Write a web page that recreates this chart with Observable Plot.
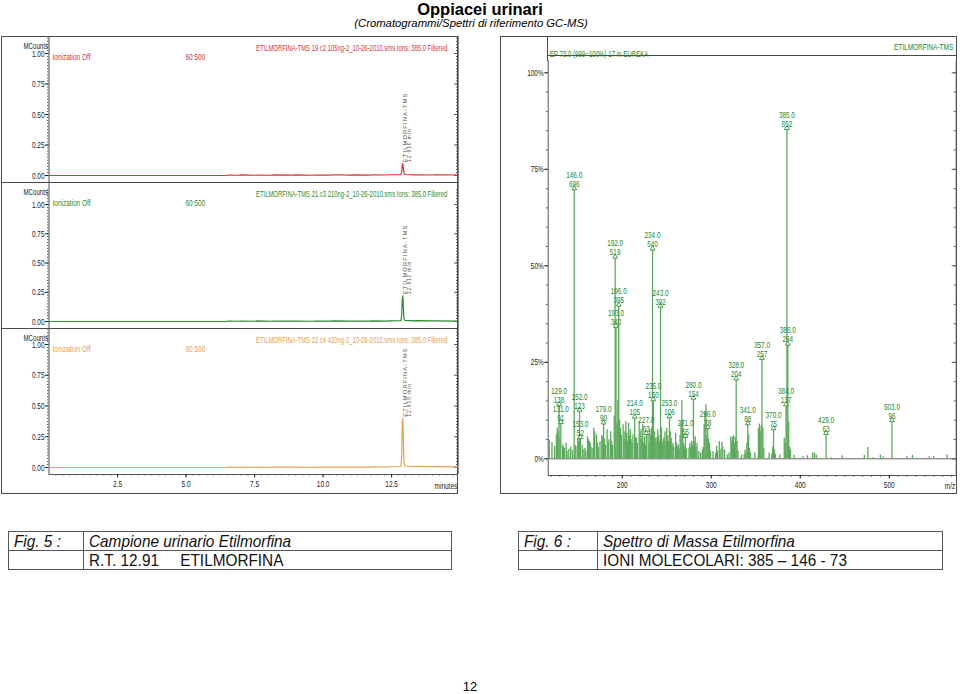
<!DOCTYPE html>
<html><head><meta charset="utf-8">
<script src="https://cdn.jsdelivr.net/npm/d3@7"></script>
<script src="https://cdn.jsdelivr.net/npm/@observablehq/plot@0.6"></script>
<style>
body{margin:0;background:#fff}
#page{position:relative;width:960px;height:694px;overflow:hidden;font-family:"Liberation Sans",Arial,sans-serif;background:#fff}
.box{position:absolute;border:1px solid #4a4a4a;box-sizing:border-box}
.hl{position:absolute;height:0;border-top:1px solid #4a4a4a}
.vl{position:absolute;width:0;border-left:1px solid #4a4a4a}
.cap{position:absolute;border-collapse:collapse;font-family:"Liberation Sans Narrow","Arial Narrow","Liberation Sans",sans-serif;font-size:16.5px;color:#111}
.cap td{border:1px solid #555;height:18px;padding:0 5px;line-height:18px;white-space:nowrap;overflow:visible}
.cap span{display:inline-block;transform:scaleX(0.93);transform-origin:left center}
</style></head>
<body><div id="page">
<div style="position:absolute;left:0;width:960px;top:0;line-height:18px;text-align:center;font-weight:bold;font-size:16.5px">Oppiacei urinari</div>
<div style="position:absolute;left:-9px;width:960px;top:17px;line-height:13px;text-align:center;font-style:italic;font-size:11.3px">(Cromatogrammi/Spettri di riferimento GC-MS)</div>
<div class="box" style="left:1px;top:36px;width:457px;height:458px"></div>
<div class="box" style="left:500px;top:36px;width:457px;height:458px"></div>
<div class="hl" style="left:1px;top:182px;width:457px"></div>
<div class="hl" style="left:1px;top:328px;width:457px"></div>
<div class="hl" style="left:547px;top:55px;width:410px"></div>
<div class="vl" style="left:547px;top:36px;height:25px"></div>
<table class="cap" style="left:8px;top:531px;width:444px">
<tr><td style="width:64px"><i><span>Fig. 5 :</span></i></td><td><i><span>Campione urinario Etilmorfina</span></i></td></tr>
<tr><td></td><td><span>R.T. 12.91&nbsp;&nbsp;&nbsp;&nbsp;&nbsp;ETILMORFINA</span></td></tr>
</table>
<table class="cap" style="left:518px;top:531px;width:425px">
<tr><td style="width:68px"><i><span>Fig. 6 :</span></i></td><td><i><span>Spettro di Massa Etilmorfina</span></i></td></tr>
<tr><td></td><td><span>IONI MOLECOLARI: 385 – 146 - 73</span></td></tr>
</table>
<div style="position:absolute;left:0;width:940px;top:679px;text-align:center;font-size:13px">12</div>
</div>
<script>
// ---------- Chromatogram data (minutes, MCounts) ----------
const chromTimes1 = [0, 6.45, 6.55, 6.9, 7.0, 7.5, 7.6, 8.1, 8.2, 8.9, 9.0, 9.6, 9.7, 10.3, 10.4, 11.0, 11.1, 11.7, 11.8, 12.3, 12.4, 12.84, 12.87, 12.89, 12.91, 12.93, 12.95, 12.98, 13.3, 13.4, 14.0, 14.1, 14.93];
const chromValues1 = [0, 0, 0.004, 0.002, 0.005, 0.002, 0.004, 0.002, 0.005, 0.003, 0.005, 0.002, 0.004, 0.003, 0.006, 0.003, 0.005, 0.003, 0.006, 0.004, 0.006, 0.006, 0.03, 0.085, 0.097, 0.06, 0.02, 0.008, 0.005, 0.006, 0.004, 0.005, 0.004];
const chromTimes2 = [0, 6.45, 6.55, 6.9, 7.0, 7.5, 7.6, 8.1, 8.2, 8.9, 9.0, 9.6, 9.7, 10.3, 10.4, 11.0, 11.1, 11.7, 11.8, 12.3, 12.4, 12.84, 12.87, 12.89, 12.91, 12.93, 12.95, 12.98, 13.3, 13.4, 14.0, 14.1, 14.93];
const chromValues2 = [0, 0, 0.004, 0.002, 0.004, 0.002, 0.005, 0.002, 0.004, 0.003, 0.004, 0.002, 0.004, 0.003, 0.005, 0.003, 0.004, 0.003, 0.006, 0.004, 0.006, 0.007, 0.06, 0.19, 0.22, 0.12, 0.03, 0.01, 0.006, 0.007, 0.005, 0.006, 0.004];
const chromTimes3 = [0, 6.45, 6.55, 6.9, 7.0, 7.5, 7.6, 8.1, 8.2, 8.9, 9.0, 9.6, 9.7, 10.3, 10.4, 11.0, 11.1, 11.7, 11.8, 12.3, 12.4, 12.84, 12.87, 12.89, 12.91, 12.93, 12.95, 12.98, 13.3, 13.4, 14.0, 14.1, 14.93];
const chromValues3 = [0, 0, 0.003, 0.002, 0.004, 0.002, 0.004, 0.002, 0.004, 0.003, 0.004, 0.002, 0.003, 0.003, 0.004, 0.003, 0.004, 0.003, 0.005, 0.004, 0.006, 0.008, 0.1, 0.36, 0.40, 0.22, 0.05, 0.012, 0.008, 0.009, 0.006, 0.007, 0.005];
const chromTitles = [
  "ETILMORFINA-TMS 19 c2 105ng-2_10-26-2010.sms Ions: 385.0 Filtered",
  "ETILMORFINA-TMS 21 c3 210ng-2_10-26-2010.sms Ions: 385.0 Filtered",
  "ETILMORFINA-TMS 22 c4 420ng-2_10-26-2010.sms Ions: 385.0 Filtered"];
const chromColors = ["#d93434", "#2e8b2e", "#e8a04a"];
const peakName = "ETILMORFINA-TMS";
const peakRT = [12.91, 12.91, 12.91];
const peakRTText = ["12.910 min", "12.911 min", "12.915 min"];
const chromYTicks = [0, 0.25, 0.5, 0.75, 1.0];
const chromXTicks = [2.5, 5.0, 7.5, 10.0, 12.5];

// ---------- Mass spectrum data (m/z, abundance on 999 scale) ----------
const labeledMz = [129,131,146,152,153,179,192,193,196,214,227,234,235,243,253,271,280,296,328,341,357,370,384,385,386,429,503];
const labeledAbund = [138,91,696,123,52,90,519,340,395,105,63,540,150,392,106,55,154,78,204,88,257,75,137,852,294,63,96];
const otherMz = [118,121,124,126,127,128,130,133,134,135,137,138,140,142,144,147,148,150,151,155,156,158,159,161,162,163,164,165,167,168,169,171,172,173,175,177,178,180,181,183,184,185,187,188,189,191,194,195,197,198,199,201,202,203,204,205,206,207,208,209,210,211,212,215,216,217,219,220,221,222,223,224,225,226,229,230,231,232,233,236,237,238,239,240,241,242,244,245,246,247,248,249,250,251,252,254,255,256,257,258,260,261,262,263,264,265,266,267,268,269,270,272,275,276,277,278,279,281,282,283,284,286,288,290,291,292,293,294,295,297,298,299,302,305,306,307,309,310,312,313,315,318,320,322,323,324,325,326,327,329,330,334,337,338,339,340,342,343,344,349,353,354,355,356,358,359,365,368,369,371,372,377,382,383,387,388,389,393,403,408,414,416,418,435,447,472,476,482,490,493,520,526,545,550,565];
const otherAbund = [48,42,32,62,80,70,53,36,30,27,40,19,25,30,22,35,32,53,45,36,25,27,20,57,50,45,40,30,27,79,70,62,40,30,45,60,55,50,35,75,40,49,70,45,35,110,90,150,100,79,60,88,50,70,96,66,45,92,60,75,50,40,62,55,53,40,96,65,75,50,88,40,57,35,62,40,75,60,80,70,53,45,55,75,60,45,80,40,50,55,70,45,79,60,45,70,53,35,40,30,66,40,30,36,25,60,95,150,96,40,30,25,27,40,30,45,35,45,57,30,40,19,15,23,30,88,120,140,60,50,40,20,19,15,32,20,45,25,43,30,23,10,15,57,45,55,60,40,55,45,20,10,12,23,15,40,62,27,15,15,79,90,70,85,80,27,15,12,30,23,12,10,53,40,96,30,23,9,6,8,15,15,10,3,8,9,29,3,10,5,6,9,5,6,10];
const specYTicks = [0, 25, 50, 75, 100];
const specXTicks = [200, 300, 400, 500];
const specHeaderLeft = "EP 73.0 (999=100%) 17 in EUREKA";
const specHeaderRight = "ETILMORFINA-TMS";

const page = document.getElementById("page");
const FONT = "Liberation Sans, Arial, sans-serif";

function place(el, left, top) {
  const d = document.createElement("div");
  d.style.position = "absolute"; d.style.left = left + "px"; d.style.top = top + "px";
  d.appendChild(el); page.appendChild(d); return el;
}

function squeeze(svg, def, factors) {
  svg.querySelectorAll("text").forEach(t => {
    const g = t.closest("g[aria-description]");
    const lab = g ? g.getAttribute("aria-description") : "";
    if (lab === "peakname") { t.style.letterSpacing = "1.1px"; return; }
    if (lab === "peakrt") { t.style.letterSpacing = "0.9px"; return; }
    const f = factors[lab] ?? def;
    const w = t.getComputedTextLength();
    if (w > 0) { t.setAttribute("textLength", (w * f).toFixed(1)); t.setAttribute("lengthAdjust", "spacingAndGlyphs"); }
  });
}

function chrom(i, times, values, top, zeroPx, onePx, withX) {
  const color = chromColors[i];
  const areaH = 146;
  const unit = zeroPx - onePx;
  const yDomain = [(zeroPx - areaH) / unit, zeroPx / unit];
  const xDomain = [0, 14.93];
  const data = times.map((t, k) => ({t, v: values[k]}));
  const peak = d3.max(values);
  const minorY = d3.range(0, 1.13, 0.025);
  const marks = [
    Plot.ruleX(xDomain, {stroke: "#555", strokeWidth: 1}),
    Plot.axisY({ticks: minorY, tickSize: 1.5, tickFormat: () => "", color: "#555", label: null}),
    Plot.axisY({ticks: chromYTicks, tickSize: 3.5, tickPadding: 1, tickFormat: d3.format(".2f"), fontSize: 9.5, color: "#222", label: null}),
    Plot.ruleY(minorY, {x1: xDomain[1] - 0.06, x2: xDomain[1], stroke: "#555"}),
    Plot.ruleY(chromYTicks, {x1: xDomain[1] - 0.13, x2: xDomain[1], stroke: "#555"}),
    Plot.line(data, {x: "t", y: "v", stroke: color, strokeWidth: 1.2}),
    Plot.text([chromTitles[i]], {frameAnchor: "top-right", dx: -11, dy: 8, textAnchor: "end", fill: color, fontSize: 9.5, ariaDescription: "ctitle"}),
    Plot.text(["MCounts"], {frameAnchor: "top-left", dx: -1, dy: 6, textAnchor: "end", fill: "#222", fontSize: 8.5, ariaDescription: "mc"}),
    Plot.text(["Ionization Off"], {frameAnchor: "top-left", dx: 3.5, dy: 17, textAnchor: "start", fill: color, fontSize: 9.5}),
    Plot.text(["60:500"], {frameAnchor: "top-left", dx: 136.5, dy: 17, textAnchor: "start", fill: color, fontSize: 9.5}),
    Plot.text([peakName], {x: () => peakRT[i], y: () => peak, rotate: -90, textAnchor: "start", lineAnchor: "middle", dx: 2.5, dy: -1.5, fontSize: 5.8, fill: "#555", ariaDescription: "peakname"}),
    Plot.text([peakRTText[i]], {x: () => peakRT[i], y: () => peak, rotate: -90, textAnchor: "start", lineAnchor: "middle", dx: 7, dy: -1.5, fontSize: 5, fill: "#555", ariaDescription: "peakrt"})
  ];
  if (withX) {
    marks.push(
      Plot.ruleY([yDomain[0]], {stroke: "#555"}),
      Plot.axisX({ticks: d3.range(0.25, 14.9, 0.25), tickSize: 1.5, tickFormat: () => "", color: "#555", label: null}),
      Plot.axisX({ticks: chromXTicks, tickSize: 3.5, tickPadding: 2, tickFormat: d3.format(".1f"), fontSize: 9.5, color: "#222", label: null}),
      Plot.text(["minutes"], {frameAnchor: "bottom-right", dx: -1, dy: 14, textAnchor: "end", fill: "#222", fontSize: 9.5})
    );
  }
  const svg = Plot.plot({
    width: 460, height: areaH + (withX ? 19 : 0),
    marginLeft: 48.5, marginRight: 2.3, marginTop: 0, marginBottom: withX ? 19 : 0,
    style: {fontFamily: FONT, background: "transparent", overflow: "visible"},
    x: {domain: xDomain, axis: withX ? undefined : null, label: null},
    y: {domain: yDomain, label: null},
    marks
  });
  place(svg, 0, top);
  squeeze(svg, 0.68, {ctitle: 0.62, mc: 0.72});
}

chrom(0, chromTimes1, chromValues1, 36, 139, 17, false);
chrom(1, chromTimes2, chromValues2, 182, 139, 22, false);
chrom(2, chromTimes3, chromValues3, 328, 139, 16, true);

// ---------- Spectrum ----------
(function () {
  const zeroPx = 422.3, pxPer = 3.86, areaTop = 24, areaBottom = 439, H = 458;
  const yDomain = [(zeroPx - areaBottom) / pxPer, (zeroPx - areaTop) / pxPer];
  const xDomain = [116.8, 575.2];
  const labeled = labeledMz.map((m, k) => ({mz: m, ab: labeledAbund[k], pct: labeledAbund[k] / 9.99}));
  const others = otherMz.map((m, k) => ({mz: m, ab: otherAbund[k], pct: otherAbund[k] / 9.99}));
  const all = others.concat(labeled);
  const minorY = d3.range(0, 103, 5);
  const green = "#5caa5c", tgreen = "#22882a";
  const svg = Plot.plot({
    width: 458, height: H, marginLeft: 47.7, marginRight: 2.3, marginTop: areaTop, marginBottom: H - areaBottom,
    style: {fontFamily: FONT, background: "transparent", overflow: "visible"},
    x: {domain: xDomain, label: null},
    y: {domain: yDomain, label: null},
    marks: [
      Plot.ruleX(xDomain, {stroke: "#555"}),
      Plot.ruleY([yDomain[0]], {stroke: "#555"}),
      Plot.ruleY([0], {stroke: "#666", strokeWidth: 1}),
      Plot.axisY({ticks: minorY, tickSize: 1.8, tickFormat: () => "", color: "#555", label: null}),
      Plot.axisY({ticks: specYTicks, tickSize: 3.5, tickPadding: 1, tickFormat: d => d + "%", fontSize: 9.5, color: "#222", label: null}),
      Plot.ruleY(minorY, {x1: xDomain[1] - 2.2, x2: xDomain[1], stroke: "#555"}),
      Plot.ruleY(specYTicks, {x1: xDomain[1] - 4.5, x2: xDomain[1], stroke: "#555"}),
      Plot.axisX({ticks: d3.range(120, 575, 10), tickSize: 1.8, tickFormat: () => "", color: "#555", label: null}),
      Plot.axisX({ticks: specXTicks, tickSize: 3.5, tickPadding: 2, tickFormat: d3.format("d"), fontSize: 9.5, color: "#222", label: null}),
      Plot.ruleX(all, {x: "mz", y1: 0, y2: "pct", stroke: green, strokeWidth: 1.3}),
      Plot.dot(labeled, {x: "mz", y: "pct", symbol: "triangle", r: 1.8, fill: "white", stroke: tgreen, strokeWidth: 0.8, dy: -1.5}),
      Plot.text(labeled, {x: "mz", y: "pct", text: d => d.mz.toFixed(1), dy: -14.5, fontSize: 8.5, fill: tgreen, ariaDescription: "speclabel"}),
      Plot.text(labeled, {x: "mz", y: "pct", text: d => String(d.ab), dy: -5.5, fontSize: 8.5, fill: tgreen, ariaDescription: "speclabel"}),
      Plot.text([specHeaderLeft], {frameAnchor: "top-left", dx: 1.5, dy: -9.5, textAnchor: "start", fill: tgreen, fontSize: 9}),
      Plot.text([specHeaderRight], {frameAnchor: "top-right", dx: -3, dy: -17.5, textAnchor: "end", fill: tgreen, fontSize: 9.5}),
      Plot.text(["m/z"], {frameAnchor: "bottom-right", dx: -1, dy: 13, textAnchor: "end", fill: "#222", fontSize: 9.5})
    ]
  });
  place(svg, 500, 36);
  squeeze(svg, 0.68, {speclabel: 0.75});
})();
</script>
</body></html>
